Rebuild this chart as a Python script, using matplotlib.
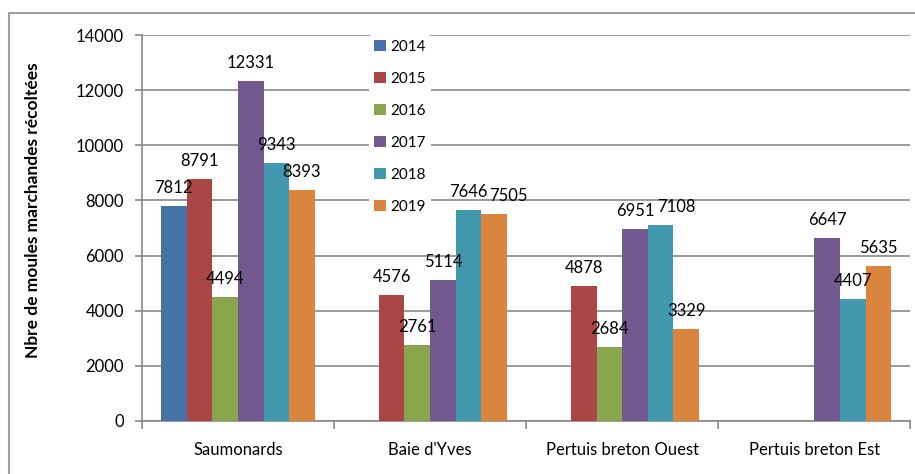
import numpy as np
import matplotlib.pyplot as plt
from matplotlib.patches import Rectangle

# Data (None = no bar for that year)
sites = ["Saumonards", "Baie d'Yves", "Pertuis breton Ouest", "Pertuis breton Est"]
years = ["2014", "2015", "2016", "2017", "2018", "2019"]
v2014 = [7812, None, None, None]
v2015 = [8791, 4576, 4878, None]
v2016 = [4494, 2761, 2684, None]
v2017 = [12331, 5114, 6951, 6647]
v2018 = [9343, 7646, 7108, 4407]
v2019 = [8393, 7505, 3329, 5635]
colors = ["#4572A7", "#AA4643", "#89A54E", "#71588F", "#4198AF", "#DB843D"]

# labels nudged sideways in the original to avoid overlaps (site, year index) -> points
nudge = {(1, 5): 10, (2, 4): 11}

plt.rcParams['font.family'] = ['Lato', 'DejaVu Sans']

fig = plt.figure(figsize=(9.15, 4.74), dpi=100)
ax = fig.add_axes([0.155, 0.112, 0.84, 0.814])

# grey frame around the chart area
fig.patches.append(Rectangle((9 / 915, -0.05), 1.2, 1 - 13 / 474 + 0.05,
                             transform=fig.transFigure, fill=False,
                             edgecolor="#a0a0a0", lw=1.5, zorder=0))

x = np.arange(len(sites))
w = 0.8 / len(years)
series = [v2014, v2015, v2016, v2017, v2018, v2019]
for i, (yr, vals, c) in enumerate(zip(years, series, colors)):
    pos = x - 0.4 + w * (i + 0.5)
    idx = [k for k, v in enumerate(vals) if v is not None]
    xs = [pos[k] for k in idx]
    ys = [vals[k] for k in idx]
    ax.bar(xs, ys, width=w, color=c, label=yr, zorder=3)
    for k, xx, yy in zip(idx, xs, ys):
        ax.annotate(str(yy), (xx, yy), xytext=(nudge.get((k, i), 0), 13),
                    textcoords="offset points", ha="center", va="center",
                    fontsize=12, zorder=4)

ax.set_xlim(-0.5, len(sites) - 0.5)
ax.set_ylim(0, 14000)
ax.set_yticks(range(0, 14001, 2000))
ax.set_xticks(x)
ax.set_xticklabels(sites, fontsize=12)
ax.set_xticks(np.arange(-0.5, len(sites)), minor=True)
ax.tick_params(axis="x", which="major", length=0, pad=15)
ax.tick_params(axis="x", which="minor", length=6, color="#888888", width=1.2)
ax.tick_params(axis="y", labelsize=12, length=5, color="#888888", width=1.2, pad=8)
ax.grid(axis="y", color="#888888", lw=1.2, zorder=0)

for s in ["top", "right"]:
    ax.spines[s].set_visible(False)
for s in ["left", "bottom"]:
    ax.spines[s].set_color("#888888")
    ax.spines[s].set_linewidth(1.2)

ax.set_ylabel("Nbre de moules marchandes récoltées", fontsize=12.5, fontweight="bold")
ax.yaxis.set_label_coords(-0.131, 0.545)

leg = ax.legend(loc="upper left", bbox_to_anchor=(0.286, 1.02), frameon=True,
                fontsize=11, handlelength=0.8, handleheight=0.8, handletextpad=0.3,
                labelspacing=1.17, borderpad=0.3)
leg.get_frame().set_edgecolor("none")
leg.get_frame().set_facecolor("white")
leg.get_frame().set_alpha(1)
leg.set_zorder(5)

fig.savefig("out.png", dpi=100)
